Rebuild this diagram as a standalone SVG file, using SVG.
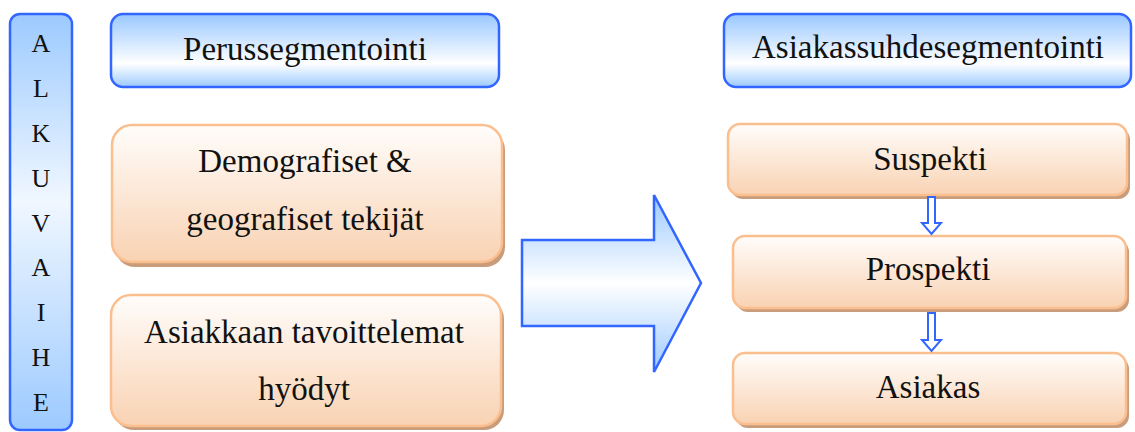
<svg xmlns="http://www.w3.org/2000/svg" width="1135" height="432" viewBox="0 0 1135 432">
  <defs>
    <linearGradient id="blueHead" x1="0" y1="0" x2="0" y2="1">
      <stop offset="0" stop-color="#99c8ff"/>
      <stop offset="0.68" stop-color="#ffffff"/>
      <stop offset="1" stop-color="#9ccaff"/>
    </linearGradient>
    <linearGradient id="blueBar" x1="0" y1="0" x2="0" y2="1">
      <stop offset="0" stop-color="#9ccaff"/>
      <stop offset="0.45" stop-color="#f0f7ff"/>
      <stop offset="1" stop-color="#9ccaff"/>
    </linearGradient>
    <linearGradient id="blueArrow" x1="0" y1="0" x2="0" y2="1">
      <stop offset="0" stop-color="#9ccaff"/>
      <stop offset="0.5" stop-color="#ffffff"/>
      <stop offset="1" stop-color="#9ccaff"/>
    </linearGradient>
    <linearGradient id="peach" x1="0" y1="0" x2="0" y2="1">
      <stop offset="0" stop-color="#fffdfb"/>
      <stop offset="1" stop-color="#f9d2b2"/>
    </linearGradient>
  </defs>
  <style>
    .blue { stroke: #3366ff; stroke-width: 2.5; }
    .peachBox { fill: url(#peach); stroke: #fbbe8e; stroke-width: 2.5; }
    .shadow { fill: #c99c7b; }
    .txt { font-family: "Liberation Serif", "Times New Roman", serif; font-size: 33px; fill: #111; text-anchor: middle; }
    .letter { font-family: "Liberation Serif", "Times New Roman", serif; font-size: 26px; fill: #111; text-anchor: middle; }
    .step { fill: #ffffff; stroke: #3366ff; stroke-width: 2; }
  </style>
  <rect width="1135" height="432" fill="#ffffff"/>

  <!-- vertical phase bar -->
  <g id="alkuvaihe">
    <rect class="blue" x="10" y="14" width="62" height="416" rx="10" fill="url(#blueBar)"/>
    <text class="letter" x="41" y="52">A</text>
    <text class="letter" x="41" y="97">L</text>
    <text class="letter" x="41" y="142">K</text>
    <text class="letter" x="41" y="187">U</text>
    <text class="letter" x="41" y="232">V</text>
    <text class="letter" x="41" y="276">A</text>
    <text class="letter" x="41" y="321">I</text>
    <text class="letter" x="41" y="366">H</text>
    <text class="letter" x="41" y="411">E</text>
  </g>

  <!-- left column -->
  <g id="perussegmentointi">
    <rect class="blue" x="111" y="14" width="388" height="73" rx="12" fill="url(#blueHead)"/>
    <text class="txt" x="305" y="60">Perussegmentointi</text>
  </g>
  <g id="demografiset">
    <rect class="shadow" x="115" y="130" width="390" height="137" rx="20"/>
    <rect class="peachBox" x="112" y="125" width="390" height="137" rx="20"/>
    <text class="txt" x="305" y="172">Demografiset &amp;</text>
    <text class="txt" x="305" y="230">geografiset tekijät</text>
  </g>
  <g id="tavoittelemat">
    <rect class="shadow" x="114" y="299" width="390" height="131" rx="20"/>
    <rect class="peachBox" x="111" y="295" width="390" height="131" rx="20"/>
    <text class="txt" x="304" y="343">Asiakkaan tavoittelemat</text>
    <text class="txt" x="304" y="400">hyödyt</text>
  </g>

  <!-- right column -->
  <g id="asiakassuhdesegmentointi">
    <rect class="blue" x="724" y="14" width="407" height="73" rx="12" fill="url(#blueHead)"/>
    <text class="txt" x="928" y="58">Asiakassuhdesegmentointi</text>
  </g>
  <g id="suspekti">
    <rect class="shadow" x="731" y="128" width="399" height="71" rx="12"/>
    <rect class="peachBox" x="728" y="124" width="399" height="71" rx="12"/>
    <text class="txt" x="930" y="170">Suspekti</text>
  </g>
  <g id="prospekti">
    <rect class="shadow" x="736" y="240" width="393" height="72" rx="12"/>
    <rect class="peachBox" x="733" y="236" width="393" height="72" rx="12"/>
    <text class="txt" x="928" y="280">Prospekti</text>
  </g>
  <g id="asiakas">
    <rect class="shadow" x="736" y="357" width="393" height="71" rx="12"/>
    <rect class="peachBox" x="733" y="353" width="393" height="71" rx="12"/>
    <text class="txt" x="928" y="398">Asiakas</text>
  </g>

  <!-- connectors -->
  <g id="connectors">
    <polygon class="blue" fill="url(#blueArrow)" points="522,240 654,240 654,195 701,283 654,372 654,326 522,326"/>
    <polygon class="step" points="928,197 935,197 935,223 941,223 931.5,234 922,223 928,223"/>
    <polygon class="step" points="928,313 935,313 935,340 941,340 931.5,351 922,340 928,340"/>
  </g>
</svg>
